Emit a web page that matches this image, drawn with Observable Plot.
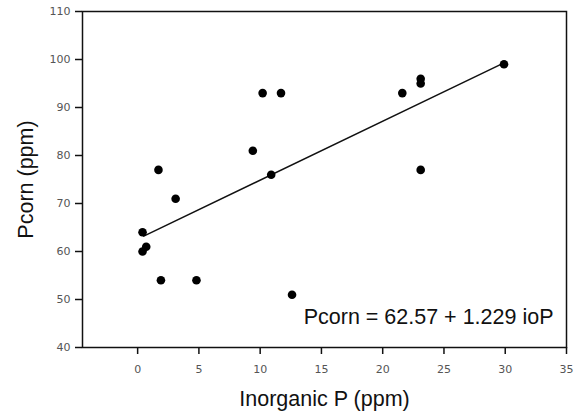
<!DOCTYPE html>
<html><head><meta charset="utf-8">
<script src="https://cdn.jsdelivr.net/npm/d3@7"></script>
<script src="https://cdn.jsdelivr.net/npm/@observablehq/plot@0.6"></script>
<style>body{margin:0;background:#fff}</style>
</head><body><div id="chart"></div>
<script>
const inorganicP = [0.4, 0.4, 0.7, 1.7, 1.9, 3.1, 4.8, 9.4, 10.2, 10.9, 11.7, 12.6, 21.6, 23.1, 23.1, 23.1, 29.9];
const pcorn      = [64,  60,  61,  77,  54,  71,  54,  81,  93,   76,   93,   51,   93,   95,   96,   77,   99];
const fitX = [0.5, 29.9];
const fitY = [63.2, 99.3];
const xTicks = [0, 5, 10, 15, 20, 25, 30, 35];
const yTicks = [40, 50, 60, 70, 80, 90, 100, 110];
const xLabel = "Inorganic P (ppm)";
const yLabel = "Pcorn (ppm)";
const equation = "Pcorn = 62.57 + 1.229 ioP";

const data = inorganicP.map((x, i) => ({x, y: pcorn[i]}));
const fit = fitX.map((x, i) => ({x, y: fitY[i]}));

const plot = Plot.plot({
  width: 581, height: 411,
  marginLeft: 82, marginRight: 15, marginTop: 11, marginBottom: 64,
  style: {fontFamily: "'Liberation Sans', Arial, sans-serif", background: "#fff", color: "#111"},
  x: {domain: [-4.5, 35]},
  y: {domain: [40, 110]},
  marks: [
    Plot.axisX({ticks: xTicks, tickSize: 7, tickPadding: 11, strokeWidth: 1.5, stroke: "#111", fill: "#555", fontSize: 11, fontFamily: "DejaVu Sans", label: null}),
    Plot.axisX({ticks: [], label: xLabel, labelArrow: "none", labelAnchor: "center", labelOffset: 58, fontSize: 21.5, fill: "#111"}),
    Plot.axisY({ticks: yTicks, tickSize: 7, tickPadding: 5, strokeWidth: 1.5, stroke: "#111", fill: "#555", fontSize: 11, fontFamily: "DejaVu Sans", label: null}),
    Plot.axisY({ticks: [], label: yLabel, labelArrow: "none", labelAnchor: "center", labelOffset: 65, fontSize: 21.5, fill: "#111"}),
    Plot.frame({stroke: "#111", strokeWidth: 1.5}),
    Plot.line(fit, {x: "x", y: "y", stroke: "#111", strokeWidth: 1.5}),
    Plot.dot(data, {x: "x", y: "y", r: 4.3, fill: "#000", stroke: "none"}),
    Plot.text([equation], {frameAnchor: "bottom-right", text: d => d, textAnchor: "end", lineAnchor: "bottom", dx: -13, dy: -24, fontSize: 21.5, fill: "#111"})
  ]
});
document.getElementById("chart").appendChild(plot);
</script>
</body></html>
